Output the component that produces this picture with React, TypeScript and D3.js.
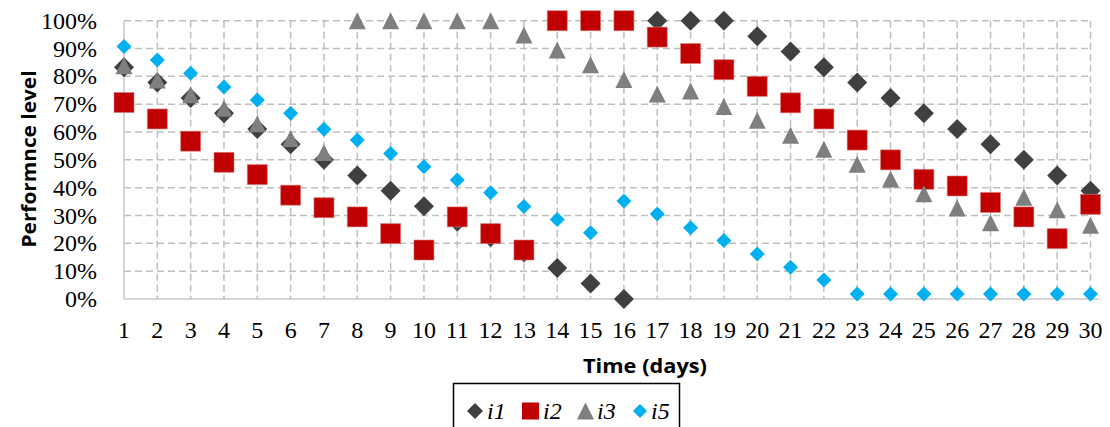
import React from "react";
import * as d3 from "d3";

// Performance level of four indicators over a 30-day period
const days = [1, 2, 3, 4, 5, 6, 7, 8, 9, 10, 11, 12, 13, 14, 15, 16, 17, 18, 19, 20, 21, 22, 23, 24, 25, 26, 27, 28, 29, 30];

const i1 = [83.3, 77.8, 72.2, 66.7, 61.1, 55.6, 50.0, 44.4, 38.9, 33.3, 27.8, 22.2, 16.7, 11.1, 5.6, 0, 100, 100, 100, 94.4, 88.9, 83.3, 77.8, 72.2, 66.7, 61.1, 55.6, 50.0, 44.4, 38.9];
const i2 = [70.6, 64.7, 56.7, 49.1, 44.7, 37.3, 32.8, 29.5, 23.5, 17.6, 29.5, 23.5, 17.6, 100, 100, 100, 94.1, 88.2, 82.4, 76.4, 70.5, 64.7, 57.1, 50.0, 43.0, 40.6, 34.7, 29.5, 21.7, 34.0];
const i3 = [83.8, 78.7, 73.4, 68.5, 63.0, 57.7, 52.6, 100, 100, 100, 100, 100, 94.9, 89.5, 84.2, 78.9, 73.7, 74.7, 69.2, 64.2, 58.8, 53.8, 48.4, 43.1, 37.8, 32.7, 27.4, 36.6, 32.1, 26.5];
const i5 = [90.7, 85.9, 81.1, 76.2, 71.5, 66.7, 61.0, 57.1, 52.3, 47.5, 42.8, 38.2, 33.2, 28.6, 23.8, 35.2, 30.5, 25.6, 21.0, 16.2, 11.4, 6.8, 1.8, 1.8, 1.8, 1.8, 1.8, 1.8, 1.8, 1.8];

const yTicks = [0, 10, 20, 30, 40, 50, 60, 70, 80, 90, 100];

type Shape = "diamond" | "square" | "triangle";

const seriesList: { name: string; values: number[]; shape: Shape; color: string; size: number; legendSize: number }[] = [
  { name: "i1", values: i1, shape: "diamond", color: "#404040", size: 20, legendSize: 16 },
  { name: "i2", values: i2, shape: "square", color: "#C00000", size: 20, legendSize: 17 },
  { name: "i3", values: i3, shape: "triangle", color: "#7F7F7F", size: 17, legendSize: 17 },
  { name: "i5", values: i5, shape: "diamond", color: "#00B0F0", size: 15, legendSize: 14 },
];

function markerPath(shape: Shape, s: number): string {
  const h = s / 2;
  const p = d3.path();
  if (shape === "diamond") {
    p.moveTo(0, -h); p.lineTo(h, 0); p.lineTo(0, h); p.lineTo(-h, 0); p.closePath();
  } else if (shape === "square") {
    p.rect(-h, -h, s, s);
  } else {
    p.moveTo(0, -h); p.lineTo(h, h); p.lineTo(-h, h); p.closePath();
  }
  return p.toString();
}

const W = 1110;
const H = 427;
const left = 124;
const right = 1090.5;
const top = 20.7;
const bottom = 299;

const serif = "'Liberation Serif', 'Times New Roman', serif";
const sans = "'Open Sans', 'Noto Sans', sans-serif";

export default function App() {
  const x = d3.scaleLinear().domain([days[0], days[days.length - 1]]).range([left, right]);
  const y = d3.scaleLinear().domain([0, 100]).range([bottom, top]);
  const grid = "#BFBFBF";

  const legendItems = [
    { markX: 475, textX: 487 },
    { markX: 530.5, textX: 543 },
    { markX: 585.5, textX: 597 },
    { markX: 640, textX: 651 },
  ];
  const legendY = 411;

  return (
    <svg width={W} height={H} style={{ position: "absolute", left: 0, top: 0, background: "#fff" }}>
      {/* horizontal gridlines */}
      {yTicks.filter((t) => t > 0).map((t) => (
        <line key={"h" + t} x1={left} x2={right} y1={y(t)} y2={y(t)} stroke={grid} strokeWidth={1.5} strokeDasharray="7,4" />
      ))}
      {/* vertical gridlines */}
      {days.slice(1).map((d) => (
        <line key={"v" + d} x1={x(d)} x2={x(d)} y1={top} y2={bottom} stroke={grid} strokeWidth={1.5} strokeDasharray="7,4" />
      ))}
      {/* axes */}
      <line x1={left} x2={left} y1={top} y2={bottom} stroke="#C8C8C8" strokeWidth={1.5} />
      <line x1={left} x2={1099} y1={bottom} y2={bottom} stroke="#C8C8C8" strokeWidth={1.5} />

      {/* y tick labels */}
      {yTicks.map((t) => (
        <text key={"yl" + t} x={97} y={y(t) + 8} textAnchor="end" fontFamily={serif} fontSize={24} fill="#000">
          {t + "%"}
        </text>
      ))}
      {/* x tick labels */}
      {days.map((d) => (
        <text key={"xl" + d} x={x(d)} y={338} textAnchor="middle" fontFamily={serif} fontSize={24} fill="#000">
          {d}
        </text>
      ))}

      {/* axis titles */}
      <text
        transform={`translate(36,159) rotate(-90)`}
        textAnchor="middle"
        fontFamily={sans}
        fontWeight="bold"
        fontSize={19}
        textLength={177}
        lengthAdjust="spacingAndGlyphs"
        fill="#000"
      >
        Performnce level
      </text>
      <text x={645} y={373} textAnchor="middle" fontFamily={sans} fontWeight="bold" fontSize={20} textLength={124} lengthAdjust="spacingAndGlyphs" fill="#000">
        Time (days)
      </text>

      {/* markers */}
      {seriesList.map((s) => (
        <g key={s.name}>
          {s.values.map((v, i) => (
            <path
              key={i}
              d={markerPath(s.shape, s.size)}
              transform={`translate(${x(days[i])},${y(v)})`}
              fill={s.color}
              stroke={s.shape === "square" ? "#D87878" : "none"}
              strokeWidth={s.shape === "square" ? 0.6 : 0}
            />
          ))}
        </g>
      ))}

      {/* legend */}
      <rect x={453.5} y={383.5} width={226} height={60} fill="#fff" stroke="#000" strokeWidth={1.5} />
      {seriesList.map((s, i) => (
        <g key={"lg" + s.name}>
          <path d={markerPath(s.shape, s.legendSize)} transform={`translate(${legendItems[i].markX},${legendY})`} fill={s.color} />
          <text x={legendItems[i].textX} y={legendY + 8} fontFamily={serif} fontStyle="italic" fontSize={24} fill="#000">
            {s.name}
          </text>
        </g>
      ))}
    </svg>
  );
}
